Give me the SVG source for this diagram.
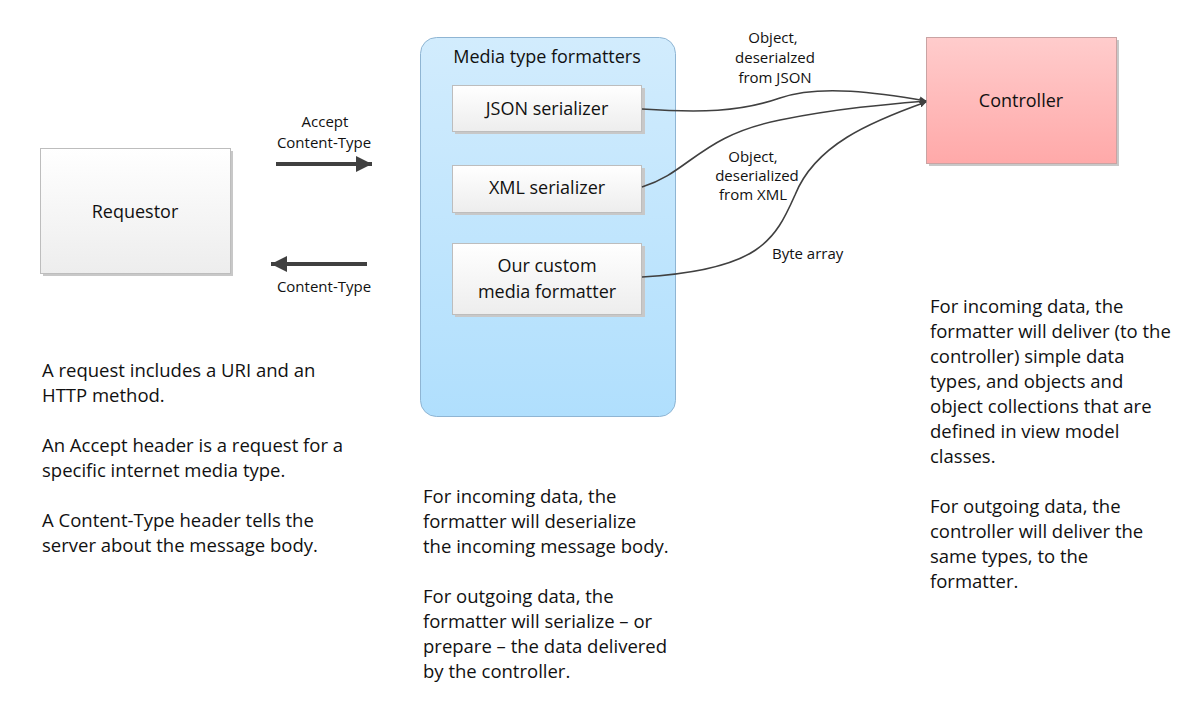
<svg xmlns="http://www.w3.org/2000/svg" width="1200" height="705" viewBox="0 0 1200 705">
<defs>
<linearGradient id="gGray" x1="0" y1="0" x2="0" y2="1"><stop offset="0" stop-color="#ffffff"/><stop offset="1" stop-color="#ededed"/></linearGradient>
<linearGradient id="gRed" x1="0" y1="0" x2="0" y2="1"><stop offset="0" stop-color="#ffcccc"/><stop offset="1" stop-color="#ffa9a9"/></linearGradient>
<linearGradient id="gBlue" x1="0" y1="0" x2="0" y2="1"><stop offset="0" stop-color="#d2ecfd"/><stop offset="1" stop-color="#b0dffd"/></linearGradient>
<marker id="ah" viewBox="0 0 10 10" refX="9" refY="5" markerWidth="7" markerHeight="7" markerUnits="userSpaceOnUse" orient="auto"><path d="M0,0 L10,5 L0,10 z" fill="#404040"/></marker>
<marker id="big" viewBox="0 0 10 10" refX="10" refY="5" markerWidth="16" markerHeight="16" markerUnits="userSpaceOnUse" orient="auto"><path d="M0,0 L10,5 L0,10 z" fill="#404040"/></marker>
</defs>
<style>
text{font-family:"Open Sans","Liberation Sans",sans-serif;fill:#111}
.t{font-size:18px}
.n{font-size:18.5px}
.c{text-anchor:middle}
.s{font-size:15px}
.box{fill:url(#gGray);stroke:#bdbdbd;stroke-width:1}
.sh{fill:#c8c8c8}
.con{fill:none;stroke:#404040;stroke-width:1.6}
.fat{fill:none;stroke:#404040;stroke-width:4}
</style>
<rect width="1200" height="705" fill="#ffffff"/>

<g id="requestor">
<rect class="sh" x="43" y="151" width="190" height="125"/>
<rect class="box" x="40.5" y="148.5" width="190" height="125"/>
<text class="t c" x="135" y="218">Requestor</text>
</g>

<g id="formatters">
<rect x="420.5" y="37.5" width="255" height="379" rx="16" fill="url(#gBlue)" stroke="#8fb5d3"/>
<text class="t c" x="547" y="63">Media type formatters</text>
</g>

<g id="json">
<rect class="sh" x="455" y="88" width="190" height="46"/>
<rect class="box" x="452.5" y="85.5" width="189" height="46"/>
<text class="t c" x="547" y="115">JSON serializer</text>
</g>
<g id="xml">
<rect class="sh" x="455" y="168" width="190" height="47"/>
<rect class="box" x="452.5" y="165.5" width="189" height="47"/>
<text class="t c" x="547" y="194">XML serializer</text>
</g>
<g id="custom">
<rect class="sh" x="455" y="246" width="190" height="71"/>
<rect class="box" x="452.5" y="243.5" width="189" height="71"/>
<text class="t c" x="547" y="272">Our custom</text>
<text class="t c" x="547" y="298">media formatter</text>
</g>

<g id="controller">
<rect class="sh" x="929" y="40" width="190" height="126"/>
<rect x="926.5" y="37.5" width="190" height="126" fill="url(#gRed)" stroke="#c9a3a3"/>
<text class="t c" x="1021" y="107">Controller</text>
</g>

<g id="connectors">
<line class="fat" x1="276" y1="164" x2="372" y2="164" marker-end="url(#big)"/>
<line class="fat" x1="367" y1="264" x2="271" y2="264" marker-end="url(#big)"/>
<path class="con" d="M642,109 C700,113 740,112 780,98 C820,84 880,93 926,101" marker-end="url(#ah)"/>
<path class="con" d="M642,187 C690,172 700,136 780,120 C840,108 890,104 926,101" marker-end="url(#ah)"/>
<path class="con" d="M642,277 C760,270 775,240 795,195 C815,145 870,122 926,102" marker-end="url(#ah)"/>
</g>

<g id="labels">
<text class="s c" x="325" y="127">Accept</text>
<text class="s c" x="324" y="148">Content-Type</text>
<text class="s c" x="324" y="292">Content-Type</text>
<text class="s c" x="773" y="43">Object,</text>
<text class="s c" x="775" y="63">deserialzed</text>
<text class="s c" x="775" y="83">from JSON</text>
<text class="s c" x="753" y="162">Object,</text>
<text class="s c" x="757" y="181">deserialized</text>
<text class="s c" x="753" y="200">from XML</text>
<text class="s" x="772" y="259">Byte array</text>
</g>

<g id="notes">
<text class="n" x="42" y="377">A request includes a URI and an</text>
<text class="n" x="42" y="402">HTTP method.</text>
<text class="n" x="42" y="452">An Accept header is a request for a</text>
<text class="n" x="42" y="477">specific internet media type.</text>
<text class="n" x="42" y="527">A Content-Type header tells the</text>
<text class="n" x="42" y="552">server about the message body.</text>

<text class="n" x="423" y="503">For incoming data, the</text>
<text class="n" x="423" y="528">formatter will deserialize</text>
<text class="n" x="423" y="553">the incoming message body.</text>
<text class="n" x="423" y="603">For outgoing data, the</text>
<text class="n" x="423" y="628">formatter will serialize – or</text>
<text class="n" x="423" y="653">prepare – the data delivered</text>
<text class="n" x="423" y="678">by the controller.</text>

<text class="n" x="930" y="313">For incoming data, the</text>
<text class="n" x="930" y="338">formatter will deliver (to the</text>
<text class="n" x="930" y="363">controller) simple data</text>
<text class="n" x="930" y="388">types, and objects and</text>
<text class="n" x="930" y="413">object collections that are</text>
<text class="n" x="930" y="438">defined in view model</text>
<text class="n" x="930" y="463">classes.</text>
<text class="n" x="930" y="513">For outgoing data, the</text>
<text class="n" x="930" y="538">controller will deliver the</text>
<text class="n" x="930" y="563">same types, to the</text>
<text class="n" x="930" y="588">formatter.</text>
</g>
</svg>
